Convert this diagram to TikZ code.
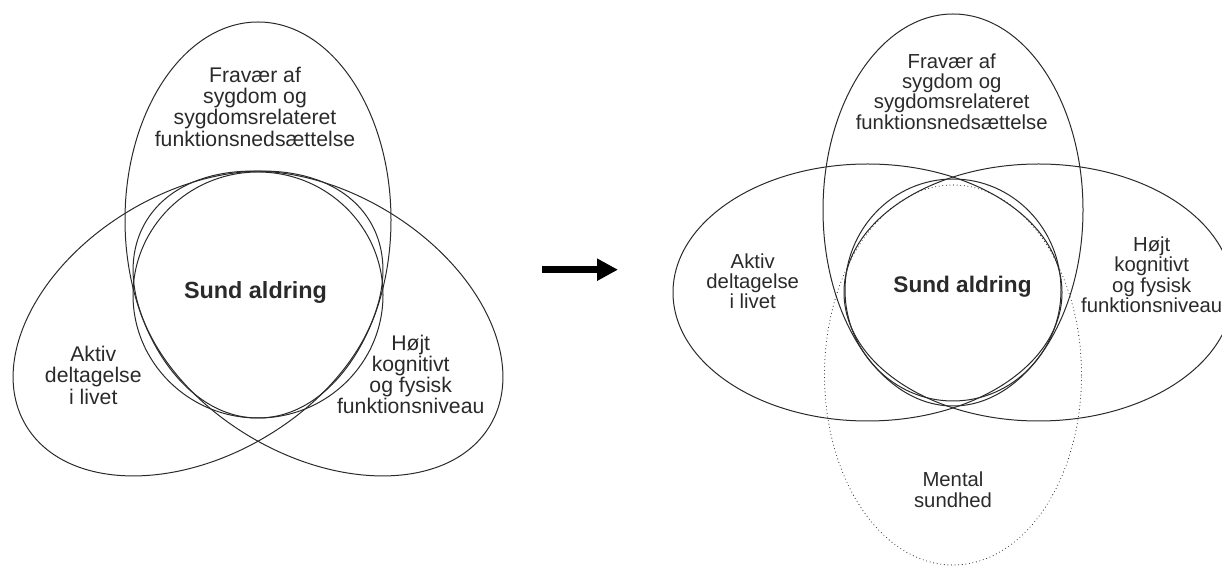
\documentclass[tikz,border=0pt]{standalone}
\usepackage{fontspec}
\setmainfont{Liberation Sans}
\usetikzlibrary{arrows.meta}
\definecolor{inkDark}{HTML}{2A2A2A}

\begin{document}
\begin{tikzpicture}[x=1pt, y=1pt,
    ring/.style={draw=inkDark, line width=1pt},
    dotring/.style={draw=inkDark, line width=1.1pt, dash pattern=on 0pt off 3.6pt, line cap=round},
    lblL/.style={font=\fontsize{21.2}{21.3}\selectfont, text=inkDark, align=center, inner sep=0pt},
    lblR/.style={font=\fontsize{20.3}{20.2}\selectfont, text=inkDark, align=center, inner sep=0pt}]
    \useasboundingbox (0,0) rectangle (1222,567);
    \clip (0,0) rectangle (1222,567);
    \draw[ring] (258,347) ellipse [x radius=133, y radius=198];
    \draw[ring, rotate around={30.5:(198,243.5)}] (198,243.5) ellipse [x radius=200, y radius=132];
    \draw[ring, rotate around={-30.5:(318,243.5)}] (318,243.5) ellipse [x radius=200, y radius=132];
    \draw[ring] (258,272) ellipse [x radius=125, y radius=123];
    \node[lblL] (fravaerL) at (255,460.3) {Fravær af\\sygdom og\\sygdomsrelateret\\funktionsnedsættelse};
    \node[lblL] (aktivL) at (93.3,191.7) {Aktiv\\deltagelse\\i livet};
    \node[lblL] (hoejtL) at (410.7,192.6) {Højt\\kognitivt\\og fysisk\\funktionsniveau};
    \node[lblL, font=\fontsize{23.4}{23.4}\selectfont\bfseries] (sundL) at (255.5,274.3) {Sund aldring};
    \coordinate (arrowTail) at (542,297.3);
    \coordinate (arrowTip) at (618,297.3);
    \draw[line width=7pt, -{Triangle[length=21pt, width=21pt]}] (arrowTail) -- (arrowTip);
    \draw[ring] (867.5,274.5) ellipse [x radius=194.5, y radius=128.5];
    \draw[ring] (1038.5,274.5) ellipse [x radius=194.5, y radius=128.5];
    \draw[ring] (953,357) ellipse [x radius=130, y radius=196];
    \draw[ring] (953,277) ellipse [x radius=108, y radius=111];
    \draw[dotring] (953,192) ellipse [x radius=128.5, y radius=190];
    \node[lblR] (fravaerR) at (951.7,475.4) {Fravær af\\sygdom og\\sygdomsrelateret\\funktionsnedsættelse};
    \node[lblR] (aktivR) at (752.7,285.8) {Aktiv\\deltagelse\\i livet};
    \node[lblR] (hoejtR) at (1151.7,292.3) {Højt\\kognitivt\\og fysisk\\funktionsniveau};
    \node[lblR] (mentalR) at (953,77.3) {Mental\\sundhed};
    \node[lblR, font=\fontsize{22.6}{22.6}\selectfont\bfseries] (sundR) at (962.5,280.3) {Sund aldring};
\end{tikzpicture}
\end{document}
